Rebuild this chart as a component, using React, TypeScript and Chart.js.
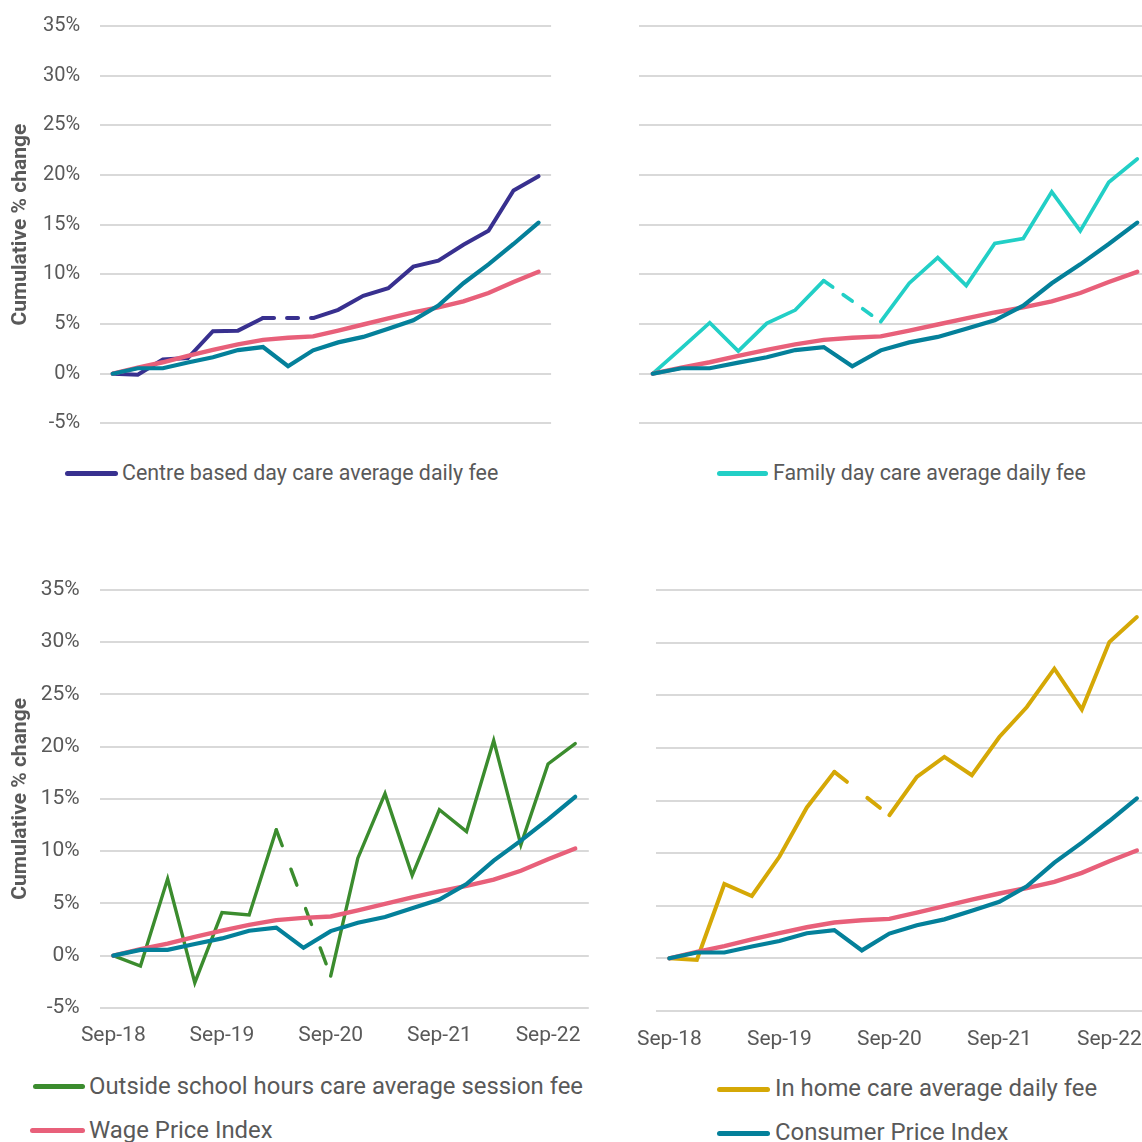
import React, { useEffect, useRef } from 'react';
import Chart from 'chart.js/auto';

// ---------- DATA ----------
const quarters = [
  'Sep-18', 'Dec-18', 'Mar-19', 'Jun-19', 'Sep-19', 'Dec-19', 'Mar-20', 'Jun-20', 'Sep-20',
  'Dec-20', 'Mar-21', 'Jun-21', 'Sep-21', 'Dec-21', 'Mar-22', 'Jun-22', 'Sep-22', 'Dec-22',
];

const wagePriceIndex = [0, 0.62, 1.15, 1.8, 2.4, 2.95, 3.4, 3.62, 3.75, 4.34, 4.95, 5.57, 6.16, 6.68, 7.27, 8.12, 9.22, 10.25];
const consumerPriceIndex = [0, 0.55, 0.55, 1.12, 1.65, 2.38, 2.68, 0.75, 2.35, 3.15, 3.7, 4.53, 5.37, 6.85, 9.1, 11.0, 13.05, 15.2];

const centreBasedDayCare = [0, -0.1, 1.43, 1.57, 4.27, 4.33, 5.6, null, 5.6, 6.43, 7.83, 8.6, 10.77, 11.37, 12.97, 14.37, 18.43, 19.87];
const familyDayCare = [0, 2.55, 5.13, 2.28, 5.07, 6.4, 9.36, null, 5.23, 9.1, 11.68, 8.86, 13.1, 13.6, 18.3, 14.36, 19.26, 21.6];
const outsideSchoolHoursCare = [0, -0.99, 7.35, -2.59, 4.12, 3.9, 12.04, null, -1.95, 9.33, 15.5, 7.67, 13.96, 11.88, 20.58, 10.6, 18.34, 20.29];
const inHomeCare = [0, -0.16, 7.06, 5.92, 9.65, 14.34, 17.72, null, 13.6, 17.25, 19.15, 17.4, 21.04, 23.89, 27.53, 23.64, 30.06, 32.44];

const yMin = -5;
const yMax = 35;
const yStep = 5;
const yTitle = 'Cumulative % change';

const labelCBDC = 'Centre based day care average daily fee';
const labelFDC = 'Family day care average daily fee';
const labelOSHC = 'Outside school hours care average session fee';
const labelIHC = 'In home care average daily fee';
const labelWPI = 'Wage Price Index';
const labelCPI = 'Consumer Price Index';

// ---------- STYLE ----------
const C_NAVY = '#38308f';
const C_CYAN = '#22cfc6';
const C_GREEN = '#3b8c2e';
const C_GOLD = '#d5a806';
const C_PINK = '#e8607a';
const C_TEAL = '#04809a';
const C_TEXT = '#595959';
const C_GRID = '#d9d9d9';
const FONT = 'Roboto';

type PanelProps = {
  left: number; top: number; width: number; height: number;
  fee: (number | null)[]; feeLabel: string; feeColor: string; feeWidth: number; dash: number[];
  padTop: number; padRight: number; padBottom: number;
  yWidth: number; xHeight: number; showY: boolean; showX: boolean;
  tickSize: number; xPad: number;
};

function Panel(p: PanelProps) {
  const ref = useRef<HTMLCanvasElement>(null);
  useEffect(() => {
    if (!ref.current) return;
    const chart = new Chart(ref.current, {
      type: 'line',
      data: {
        labels: quarters,
        datasets: [
          {
            label: labelCPI, data: consumerPriceIndex, borderColor: C_TEAL, backgroundColor: C_TEAL,
            borderWidth: 4.2, pointRadius: 0, tension: 0, borderCapStyle: 'round',
          },
          {
            label: labelWPI, data: wagePriceIndex, borderColor: C_PINK, backgroundColor: C_PINK,
            borderWidth: 4.4, pointRadius: 0, tension: 0, borderCapStyle: 'round',
          },
          {
            label: p.feeLabel, data: p.fee, borderColor: p.feeColor, backgroundColor: p.feeColor,
            borderWidth: p.feeWidth, pointRadius: 0, tension: 0, spanGaps: true, borderCapStyle: 'round',
            segment: {
              borderDash: (ctx: any) => (ctx.p0.skip || ctx.p1.skip ? p.dash : undefined),
            },
          },
        ],
      },
      options: {
        animation: false,
        responsive: false,
        devicePixelRatio: 1,
        events: [],
        layout: { padding: { left: 0, top: p.padTop, right: p.padRight, bottom: p.padBottom } },
        plugins: { legend: { display: false }, tooltip: { enabled: false } },
        scales: {
          x: {
            type: 'category',
            offset: true,
            grid: { display: false, drawTicks: false },
            border: { display: false },
            ticks: {
              display: p.showX, autoSkip: false, maxRotation: 0, minRotation: 0, padding: p.xPad,
              color: C_TEXT, font: { family: FONT, size: p.tickSize },
              callback: (_v: any, i: number) => (i % 4 === 0 ? quarters[i] : ''),
            },
            afterFit: (s: any) => {
              s.height = p.xHeight;
              s.paddingLeft = 0; s.paddingRight = 0; s.paddingTop = 0; s.paddingBottom = 0;
            },
          },
          y: {
            min: yMin, max: yMax,
            grid: { color: C_GRID, lineWidth: 2, drawTicks: false },
            border: { display: false },
            ticks: {
              display: p.showY, stepSize: yStep, padding: 20,
              color: C_TEXT, font: { family: FONT, size: p.tickSize },
              callback: (v: any) => `${v}%`,
            },
            title: {
              display: p.showY, text: yTitle, color: C_TEXT,
              font: { family: FONT, size: 21, weight: 'bold' },
              padding: { top: 8, bottom: 0 },
            },
            afterFit: (s: any) => {
              s.width = p.yWidth;
              s.paddingLeft = 0; s.paddingRight = 0; s.paddingTop = 0; s.paddingBottom = 0;
            },
          },
        },
      } as any,
    });
    return () => chart.destroy();
  }, []);
  return (
    <canvas
      ref={ref}
      width={p.width}
      height={p.height}
      style={{ position: 'absolute', left: p.left, top: p.top, width: p.width, height: p.height }}
    />
  );
}

function LegendItem(props: { x1: number; x2: number; tx: number; cy: number; color: string; text: string; size: number }) {
  const { x1, x2, tx, cy, color, text, size } = props;
  return (
    <>
      <div style={{
        position: 'absolute', left: x1, top: cy - 2.5, width: x2 - x1, height: 5,
        borderRadius: 3, background: color,
      }} />
      <div style={{
        position: 'absolute', left: tx, top: cy - size * 0.62, fontFamily: FONT, fontSize: size,
        lineHeight: `${size * 1.2}px`, color: C_TEXT, whiteSpace: 'nowrap',
      }}>{text}</div>
    </>
  );
}

export default function App() {
  return (
    <div style={{
      position: 'absolute', left: 0, top: 0, width: 1142, height: 1142, overflow: 'hidden',
      background: '#ffffff', fontFamily: FONT,
    }}>
      <Panel left={0} top={0} width={560} height={440}
        fee={centreBasedDayCare} feeLabel={labelCBDC} feeColor={C_NAVY} feeWidth={4} dash={[11, 13]}
        padTop={25.8} padRight={8.9} padBottom={16.6} yWidth={100.2} xHeight={0}
        showY={true} showX={false} tickSize={20} xPad={0} />
      <Panel left={600} top={0} width={560} height={440}
        fee={familyDayCare} feeLabel={labelFDC} feeColor={C_CYAN} feeWidth={3.7} dash={[11, 13]}
        padTop={25.8} padRight={8.5} padBottom={16.6} yWidth={38.5} xHeight={0}
        showY={false} showX={false} tickSize={20} xPad={0} />
      <Panel left={0} top={560} width={600} height={500}
        fee={outsideSchoolHoursCare} feeLabel={labelOSHC} feeColor={C_GREEN} feeWidth={3.4} dash={[17, 25]}
        padTop={29.9} padRight={11.2} padBottom={0} yWidth={99.7} xHeight={52.1}
        showY={true} showX={true} tickSize={21} xPad={15} />
      <Panel left={620} top={560} width={540} height={500}
        fee={inHomeCare} feeLabel={labelIHC} feeColor={C_GOLD} feeWidth={4} dash={[16, 26]}
        padTop={30.1} padRight={9.4} padBottom={0} yWidth={35.6} xHeight={49.1}
        showY={false} showX={true} tickSize={21} xPad={16} />

      <LegendItem x1={65} x2={118} tx={122} cy={473.5} color={C_NAVY} text={labelCBDC} size={21.4} />
      <LegendItem x1={717} x2={768} tx={773} cy={473.5} color={C_CYAN} text={labelFDC} size={21.4} />
      <LegendItem x1={33} x2={85} tx={89} cy={1086.5} color={C_GREEN} text={labelOSHC} size={23.9} />
      <LegendItem x1={30} x2={85} tx={89} cy={1130.5} color={C_PINK} text={labelWPI} size={23.9} />
      <LegendItem x1={717} x2={770} tx={775} cy={1089} color={C_GOLD} text={labelIHC} size={23.9} />
      <LegendItem x1={717} x2={770} tx={775} cy={1133} color={C_TEAL} text={labelCPI} size={23.9} />
    </div>
  );
}
